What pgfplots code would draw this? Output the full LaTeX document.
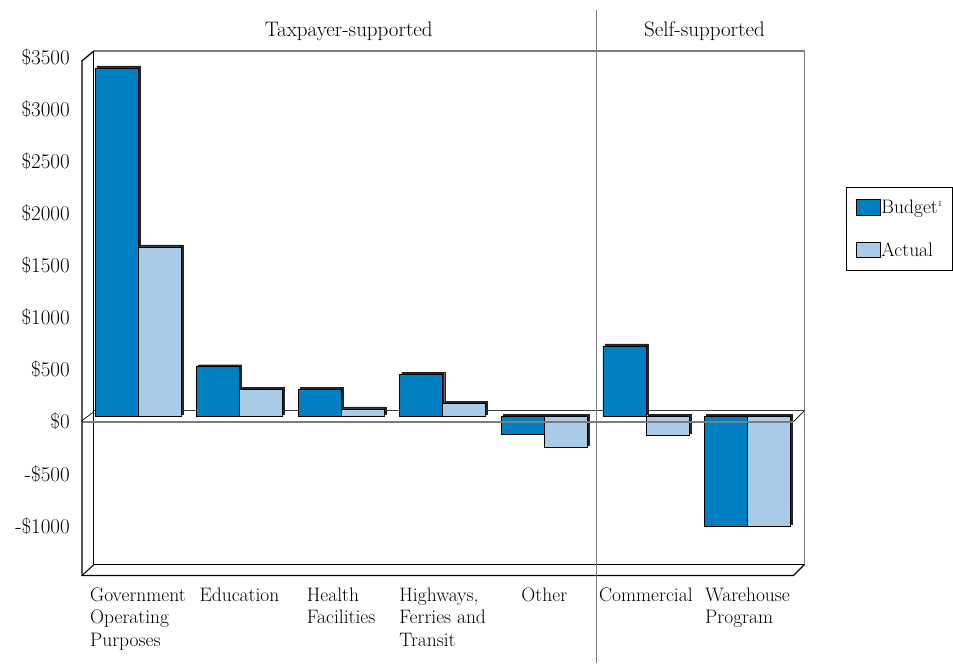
\documentclass[border=0pt]{standalone}
\usepackage{fontspec}
\usepackage{pgfplots}
\pgfplotsset{compat=1.18}
\definecolor{budget}{RGB}{0,128,196}
\definecolor{actual}{RGB}{170,203,232}
\definecolor{shade}{RGB}{35,35,40}
\definecolor{wallgray}{RGB}{125,125,125}
\newcommand{\lab}{\fontsize{19.5}{22.5}\selectfont}
\newcommand{\tlab}{\fontsize{21}{24}\selectfont}
\begin{document}
\begin{tikzpicture}
\begin{scope}[x=1pt,y=1pt]
\path[use as bounding box] (0,0) rectangle (953,-663);
% back wall
\draw[wallgray, line width=1.2pt] (94,-51) -- (805,-51) -- (805,-565);
\draw[black, line width=1pt] (94,-51) -- (94,-565) -- (805,-565);
% back zero line
\draw[black!75, line width=0.9pt] (94,-411) -- (805,-411);
\end{scope}
\begin{axis}[
  at={(94pt,-565pt)}, anchor=south west,
  width=711pt, height=518.7pt, scale only axis,
  xmin=-0.433, xmax=6.56, ymin=-1478, ymax=3500,
  axis line style={draw=none}, tick style={draw=none}, major tick length=0pt,
  clip=false,
  xtick={0,1,2,3,4,5,6},
  xticklabels={Government\\Operating\\Purposes, Education, Health\\Facilities, {Highways,\\Ferries and\\Transit}, Other, Commercial, Warehouse\\Program},
  xticklabel style={align=left, anchor=north, inner sep=2pt, yshift=-21pt, font=\lab},
  ytick={-1000,-500,0,500,1000,1500,2000,2500,3000,3500},
  yticklabels={-\$1000,-\$500,\$0,\$500,\$1000,\$1500,\$2000,\$2500,\$3000,\$3500},
  yticklabel style={anchor=east, inner sep=2pt, xshift=-22pt, yshift=-11pt, font=\tlab},
  legend image code/.code={\draw[#1] (0pt,-7.5pt) rectangle (24pt,8pt);},
  legend style={at={(1.0591,0.7288)}, anchor=north west, draw=black, line width=0.8pt,
    font=\lab, inner xsep=9pt, inner ysep=12pt, row sep=25pt,
    nodes={inner sep=1pt}},
  legend cell align=left,
]
% 3-D side edges of the bars
\addplot[ybar, bar width=0.423, bar shift=-0.2115, fill=shade, draw=shade,
  xshift=2pt, yshift=-4pt, forget plot]
  coordinates {(0,3350) (1,480) (2,260) (3,405) (4,-165) (5,680) (6,-1055)};
\addplot[ybar, bar width=0.423, bar shift=0.2115, fill=shade, draw=shade,
  xshift=2pt, yshift=-4pt, forget plot]
  coordinates {(0,1630) (1,260) (2,75) (3,130) (4,-290) (5,-180) (6,-1055)};
% Budget
\addplot[ybar, bar width=0.423, bar shift=-0.2115, fill=budget, draw=black,
  line width=0.7pt, yshift=-6pt, forget plot]
  coordinates {(0,3350) (1,480) (2,260) (3,405) (4,-165) (5,680) (6,-1055)};
% Actual
\addplot[ybar, bar width=0.423, bar shift=0.2115, fill=actual, draw=black,
  line width=0.7pt, yshift=-6pt, forget plot]
  coordinates {(0,1630) (1,260) (2,75) (3,130) (4,-290) (5,-180) (6,-1055)};
\addlegendimage{fill=budget, draw=black, line width=0.7pt}
\addlegendentry{Budget\textsuperscript{\fontsize{8}{8}\selectfont 1}}
\addlegendimage{fill=actual, draw=black, line width=0.7pt}
\addlegendentry{Actual}
\end{axis}
\begin{scope}[x=1pt,y=1pt]
% front zero line
\draw[wallgray, line width=2pt] (82,-422) -- (794,-422);
\draw[black, line width=0.7pt] (82,-421) -- (94,-412);
\draw[black, line width=0.7pt] (794,-422) -- (805,-411);
% front frame
\draw[black, line width=1.3pt] (94,-51) -- (82,-61) -- (82,-576) -- (794,-576) -- (805,-565);
\draw[black, line width=1pt] (82,-576) -- (94,-565);
% separator
\draw[wallgray, line width=1.3pt] (597,-10) -- (597,-663);
% section titles
\node[font=\tlab] at (349,-31) {Taxpayer-supported};
\node[font=\tlab] at (705,-31) {Self-supported};
\end{scope}
\end{tikzpicture}
\end{document}
